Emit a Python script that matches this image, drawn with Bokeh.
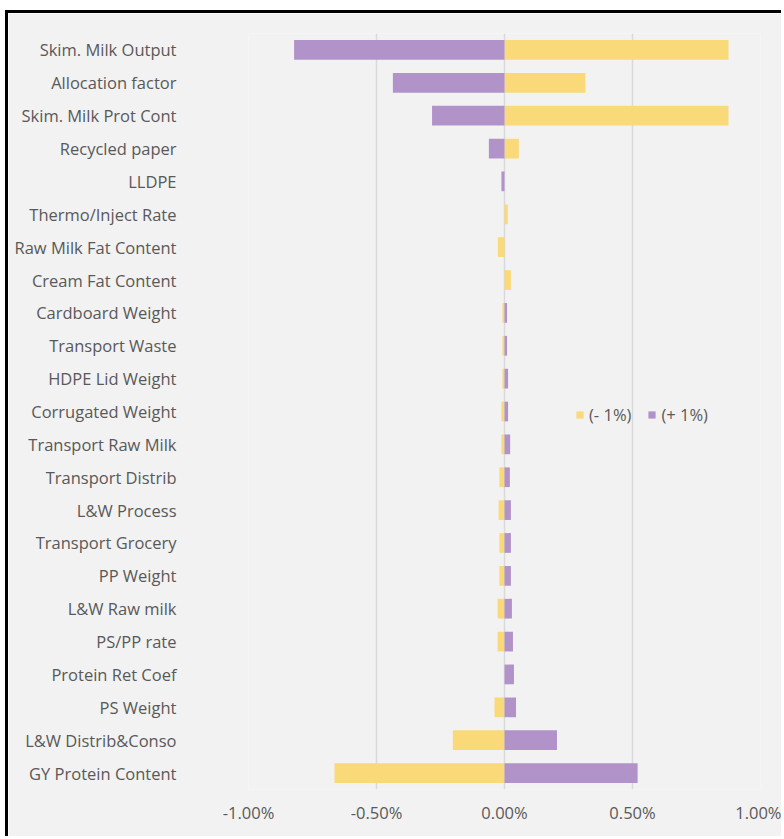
from bokeh.plotting import figure
from bokeh.models import Range1d, FactorRange, PrintfTickFormatter, Legend, LegendItem, FixedTicker
from bokeh.embed import file_html
from bokeh.resources import INLINE

# Sensitivity of the result to a +/-1% change of each parameter (values in %)
parameters = [
    "Skim. Milk Output", "Allocation factor", "Skim. Milk Prot Cont", "Recycled paper",
    "LLDPE", "Thermo/Inject Rate", "Raw Milk Fat Content", "Cream Fat Content",
    "Cardboard Weight", "Transport Waste", "HDPE Lid Weight", "Corrugated Weight",
    "Transport Raw Milk", "Transport Distrib", "L&W Process", "Transport Grocery",
    "PP Weight", "L&W Raw milk", "PS/PP rate", "Protein Ret Coef", "PS Weight",
    "L&W Distrib&Conso", "GY Protein Content",
]
minus_1 = [
    0.875, 0.316, 0.875, 0.056,
    0.0, 0.013, -0.026, 0.025,
    -0.008, -0.008, -0.008, -0.012,
    -0.012, -0.020, -0.023, -0.020,
    -0.020, -0.027, -0.027, 0.0, -0.039,
    -0.202, -0.664,
]
plus_1 = [
    -0.822, -0.436, -0.283, -0.061,
    -0.012, 0.0, 0.0, 0.0,
    0.010, 0.010, 0.014, 0.014,
    0.022, 0.021, 0.025, 0.025,
    0.025, 0.029, 0.033, 0.037, 0.045,
    0.205, 0.520,
]
x_ticks = [-1.0, -0.5, 0.0, 0.5, 1.0]

YELLOW = "#f9d978"
PURPLE = "#b193c9"
TEXT = "#595959"
FONT = "Open Sans"
SIZE = "16.5px"

p = figure(
    width=776, height=826,
    y_range=FactorRange(factors=list(reversed(parameters))),
    x_range=Range1d(-1.0, 1.0),
    output_backend="svg", toolbar_location=None,
    background_fill_color="#f2f2f2", border_fill_color="#f2f2f2",
    min_border_left=240, min_border_right=24, min_border_top=20, min_border_bottom=50,
)
p.styles = {
    "margin-left": "5px", "margin-top": "10px",
    "border-left": "3px solid black", "border-top": "3px solid black",
}
p.outline_line_color = None

r_minus = p.hbar(y=parameters, left=0, right=minus_1, height=0.6,
                 fill_color=YELLOW, line_color=None)
r_plus = p.hbar(y=parameters, left=0, right=plus_1, height=0.6,
                fill_color=PURPLE, line_color=None)

p.xaxis.ticker = FixedTicker(ticks=x_ticks)
p.xaxis.formatter = PrintfTickFormatter(format="%.2f%%")
for ax in (p.xaxis, p.yaxis):
    ax.axis_line_color = None
    ax.major_tick_line_color = None
    ax.minor_tick_line_color = None
    ax.major_label_text_font = FONT
    ax.major_label_text_font_size = SIZE
    ax.major_label_text_color = TEXT
p.xaxis.major_label_standoff = 5
p.yaxis.major_label_standoff = 66

p.ygrid.grid_line_color = None
p.xgrid.grid_line_color = "#d9d9d9"
p.xgrid.grid_line_width = 1.5

legend = Legend(
    items=[LegendItem(label="(- 1%)", renderers=[r_minus]),
           LegendItem(label="(+ 1%)", renderers=[r_plus])],
    orientation="horizontal", location=(327, 363),
    background_fill_alpha=0, border_line_color=None,
    glyph_width=9, glyph_height=9, label_text_font=FONT,
    label_text_font_size=SIZE, label_text_color=TEXT,
    spacing=16, label_standoff=5, padding=4, margin=0,
)
p.add_layout(legend, "center")

open("out.html", "w").write(file_html(p, INLINE))
